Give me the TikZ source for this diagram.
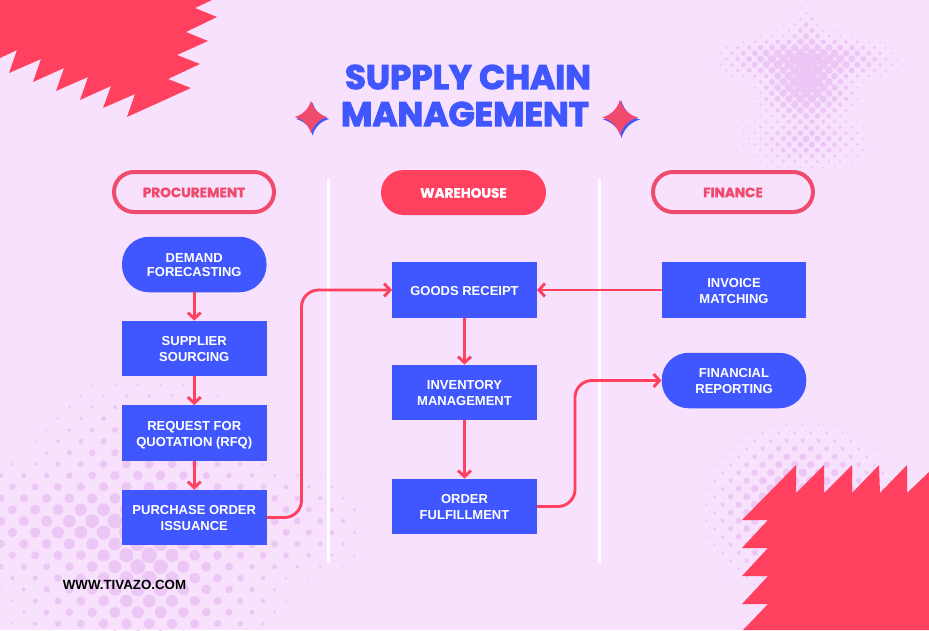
\documentclass[tikz,border=0pt]{standalone}
\usepackage{fontspec}
\setmainfont{Liberation Sans}
\newfontfamily\titlefont[FakeBold=3]{Poppins Bold}
\newfontfamily\pillfont[FakeBold=1]{Poppins Bold}
\usetikzlibrary{arrows.meta,calc}
\definecolor{bgpink}{HTML}{F8E1FD}
\definecolor{dotpink}{HTML}{ECC7F5}
\definecolor{hotred}{HTML}{FF405E}
\definecolor{softred}{HTML}{F04A6C}
\definecolor{royal}{HTML}{4056FF}
\newcommand{\lb}[1]{\raisebox{-2.2pt}[\height][\depth]{\begin{tabular}{@{}c@{}}#1\end{tabular}}}
\tikzset{
  declare function={ell(\a,\b,\c,\d,\e,\f)=1-sqrt(((\a-\c)/\e)^2+((\b-\d)/\f)^2);},
  boxnode/.style={fill=royal,text=white,minimum width=144.5pt,minimum height=55.5pt,inner sep=0pt,align=center,font=\bfseries\fontsize{13}{16}\selectfont},
  roundnode/.style={boxnode,rounded corners=27pt},
  pillnode/.style={minimum width=160pt,minimum height=40pt,inner sep=0pt,rounded corners=20pt,font=\pillfont\fontsize{13.6}{15}\selectfont},
  pillout/.style={pillnode,draw=softred,line width=4pt,text=softred},
  pillfill/.style={pillnode,minimum width=165pt,minimum height=45pt,rounded corners=22.5pt,fill=hotred,text=white},
  flow/.style={draw=hotred,line width=2.9pt,-{Straight Barb[length=6pt,width=13pt,line width=2.9pt]}},
  curveflow/.style={flow,rounded corners=17pt},
  divider/.style={draw=white,line width=3pt},
  titletext/.style={text=royal,inner sep=0pt,font=\titlefont\fontsize{38}{40}\selectfont},
}
\newcommand{\dotfield}[8]{%
  \foreach \i in {#1,...,#2}{\foreach \j in {#3,...,#4}{%
    \pgfmathtruncatemacro\pp{mod(abs(\i+\j),2)}%
    \ifnum\pp=0
      \pgfmathsetmacro\px{#6+\i*#5}\pgfmathsetmacro\py{#7+\j*#5}%
      \pgfmathsetmacro\rr{#8}%
      \ifdim\rr pt>0.3pt \fill[dotpink] (\px,\py) circle[radius=\rr]; \fi
    \fi}}}
\newcommand{\sparkle}[4]{% x y r style
  \path[#4] ($(#1,#2)+(0,-#3)$) .. controls ($(#1,#2)+(0.13*#3,-0.5*#3)$) and ($(#1,#2)+(0.5*#3,-0.13*#3)$) .. ($(#1,#2)+(#3,0)$)
   .. controls ($(#1,#2)+(0.5*#3,0.13*#3)$) and ($(#1,#2)+(0.13*#3,0.5*#3)$) .. ($(#1,#2)+(0,#3)$)
   .. controls ($(#1,#2)+(-0.13*#3,0.5*#3)$) and ($(#1,#2)+(-0.5*#3,0.13*#3)$) .. ($(#1,#2)+(-#3,0)$)
   .. controls ($(#1,#2)+(-0.5*#3,-0.13*#3)$) and ($(#1,#2)+(-0.13*#3,-0.5*#3)$) .. cycle;}
\begin{document}
\begin{tikzpicture}[x=1pt,y=-1pt]
\useasboundingbox (0,0) rectangle (929,630);
\fill[bgpink] (0,0) rectangle (929,630);
% halftone fields
\dotfield{121}{162}{0}{32}{5.7}{2.4}{-3.7}{6*max(0,ell(\px,\py,806,60,110,32),ell(\px,\py,806,77,30,82),ell(\px,\py,806,80,66,68),0.6*ell(\px,\py,806,140,85,40))}
\dotfield{0}{31}{32}{56}{11.4}{1}{-3.3}{8*max(0,ell(\px,\py,145,560,165,216),ell(\px,\py,130,525,290,85))}
\dotfield{85}{116}{50}{80}{8}{2.7}{-7.3}{6.6*max(0,ell(\px,\py,800,510,115,105))}
% bursts
\fill[hotred] (0,58)--(17,50)--(9,73)--(41,59)--(33,82)--(64,68)--(56,91)--(88,77)--(80,100)--(111,86)--(103,108)--(135,94)--(127,117)--(191,88)--(168,79)--(200,64)--(177,55)--(208,41)--(186,32)--(217,17)--(195,8)--(212,0)--(0,0)--cycle;
\fill[hotred] (742,520)--(796,465)--(796,493)--(824,465)--(824,493)--(852,465)--(852,493)--(879,465)--(880,493)--(907,465)--(907,493)--(929,472)--(929,630)--(743,630)--(768,604)--(742,604)--(768,576)--(742,576)--(768,548)--(742,548)--(768,520)--cycle;
% title
\node[titletext] (t1) at (468,77) {\resizebox{246pt}{!}{SUPPLY CHAIN}};
\node[titletext] (t2) at (465,114) {\resizebox{248pt}{!}{MANAGEMENT}};
\sparkle{312.6}{119}{16.5}{fill=royal}
\sparkle{311}{117}{16.5}{fill=softred}
\sparkle{621.5}{119.5}{18.5}{fill=royal}
\sparkle{620}{117.5}{18}{fill=softred}
% dividers
\coordinate (d1a) at (328.5,179); \coordinate (d1b) at (328.5,563);
\coordinate (d2a) at (599,179); \coordinate (d2b) at (599,563);
\draw[divider] (d1a) -- (d1b);
\draw[divider] (d2a) -- (d2b);
% headers
\node[pillout] (proc) at (194,192) {\lb{PROCUREMENT}};
\node[pillfill] (ware) at (463.5,192.5) {\lb{WAREHOUSE}};
\node[pillout] (fin) at (733,192) {\lb{FINANCE}};
% nodes
\node[roundnode] (demand) at (194.25,264.5) {\lb{DEMAND\\[-2pt]FORECASTING}};
\node[boxnode] (supplier) at (194.25,348.5) {\lb{SUPPLIER\\SOURCING}};
\node[boxnode] (rfq) at (194.25,433) {\lb{REQUEST FOR\\QUOTATION (RFQ)}};
\node[boxnode] (po) at (194.25,517.5) {\lb{PURCHASE ORDER\\ISSUANCE}};
\node[boxnode] (goods) at (464.5,290) {\lb{GOODS RECEIPT}};
\node[boxnode] (inv) at (464.5,392.5) {\lb{INVENTORY\\MANAGEMENT}};
\node[boxnode] (order) at (464.5,506.5) {\lb{ORDER\\FULFILLMENT}};
\node[boxnode] (match) at (734,290) {\lb{INVOICE\\MATCHING}};
\node[roundnode] (report) at (734,380.5) {\lb{FINANCIAL\\REPORTING}};
\node[inner sep=0pt,font=\bfseries\fontsize{13.3}{16}\selectfont,text=black] (web) at (124.5,584.5) {WWW.TIVAZO.COM};
% connectors
\draw[flow] (demand) -- (supplier);
\draw[flow] (supplier) -- (rfq);
\draw[flow] (rfq) -- (po);
\draw[flow] (goods) -- (inv);
\draw[flow] (inv) -- (order);
\draw[flow] (match) -- (goods);
\coordinate (b1) at (301.5,400);
\coordinate (b2) at (575,440);
\draw[curveflow] (po.east) -| (b1) |- (goods.west);
\draw[curveflow] (order.east) -| (b2) |- (report.west);
\end{tikzpicture}
\end{document}
